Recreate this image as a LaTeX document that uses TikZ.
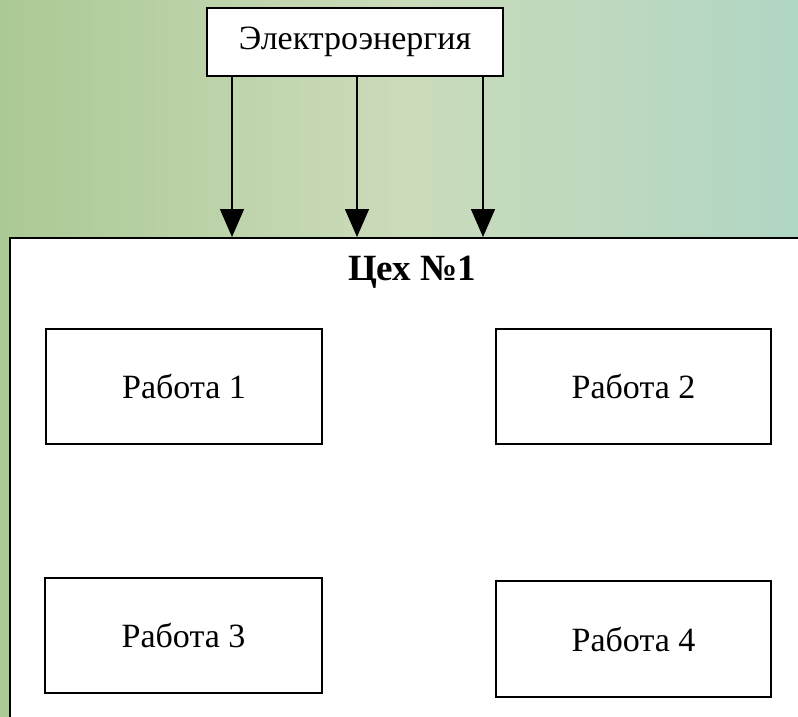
\documentclass[tikz,border=0pt]{standalone}
\usepackage{fontspec}
\setmainfont{Liberation Serif}
\usetikzlibrary{arrows.meta}
\definecolor{bgL}{HTML}{ABC995}
\definecolor{bgM}{HTML}{CBDBBA}
\definecolor{bgR}{HTML}{B0D6C4}
\tikzset{
  box/.style={draw=black, line width=1.5pt, fill=white, inner sep=0pt},
  arr/.style={line width=1.5pt, -{Triangle[width=24pt,length=28pt]}},
  lbl/.style={font=\fontsize{34}{40}\selectfont},
}
\begin{document}
\begin{tikzpicture}[x=1pt,y=-1pt]
\useasboundingbox (0,0) rectangle (798,717);
\clip (0,0) rectangle (798,717);
\shade[left color=bgL, right color=bgR, middle color=bgM] (0,0) rectangle (798,717);
% top box
\node[box, lbl, minimum width=296pt, minimum height=68pt] (e) at (355,42) {Электроэнергия};
% workshop panel
\node[box, anchor=north west, minimum width=820pt, minimum height=500pt] (panel) at (9,237) {};
\node[font=\fontsize{37}{44}\selectfont\bfseries] (title) at (412,272) {Цех №1};
% works
\node[box, lbl, minimum width=276pt, minimum height=115pt] (w1) at (184,386.5) {Работа 1};
\node[box, lbl, minimum width=275pt, minimum height=115pt] (w2) at (633.5,386.5) {Работа 2};
\node[box, lbl, minimum width=277pt, minimum height=115pt] (w3) at (183.5,635.5) {Работа 3};
\node[box, lbl, minimum width=275pt, minimum height=116pt] (w4) at (633.5,639) {Работа 4};
% arrows
\foreach \x in {232,357,483}{
  \draw[arr] (e.south -| \x,0) -- (panel.north -| \x,0);
}
\end{tikzpicture}
\end{document}
